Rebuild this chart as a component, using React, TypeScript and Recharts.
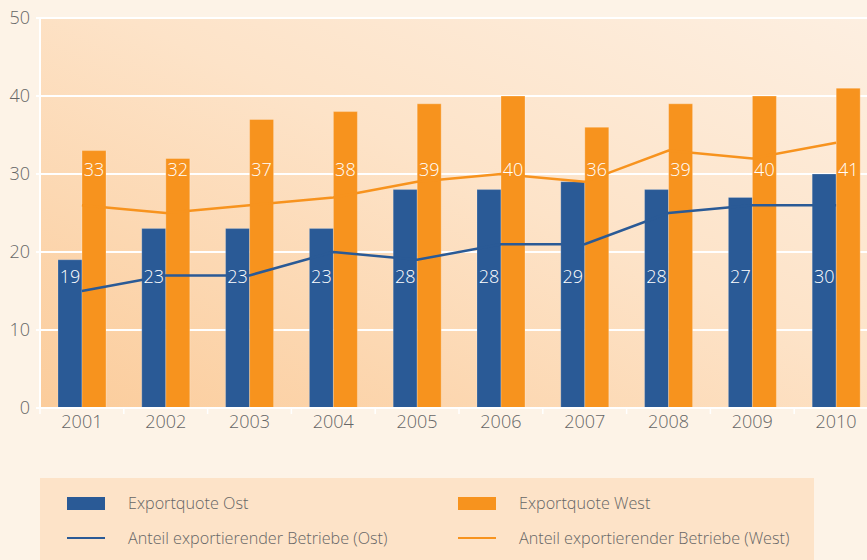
import React from 'react';
import { ComposedChart, Bar, Line, XAxis, YAxis, CartesianGrid, LabelList } from 'recharts';

const years = ['2001', '2002', '2003', '2004', '2005', '2006', '2007', '2008', '2009', '2010'];
const exportquoteOst = [19, 23, 23, 23, 28, 28, 29, 28, 27, 30];
const exportquoteWest = [33, 32, 37, 38, 39, 40, 36, 39, 40, 41];
const anteilOst = [15, 17, 17, 20, 19, 21, 21, 25, 26, 26];
const anteilWest = [26, 25, 26, 27, 29, 30, 29, 33, 32, 34];
const yTicks = [0, 10, 20, 30, 40, 50];

const seriesNames = {
  eqOst: 'Exportquote Ost',
  eqWest: 'Exportquote West',
  aOst: 'Anteil exportierender Betriebe (Ost)',
  aWest: 'Anteil exportierender Betriebe (West)',
};

const BLUE = '#2A5A96';
const ORANGE = '#F7931E';
const TEXT = '#666666';
const FONT = '"Open Sans", sans-serif';
const WEIGHT = 300;

const data = years.map((year, i) => ({
  year,
  eqOst: exportquoteOst[i],
  eqWest: exportquoteWest[i],
  aOst: anteilOst[i],
  aWest: anteilWest[i],
}));

const makeLabel = (level: number) => (props: any) => {
  const { x, y, width, height, value } = props;
  const bottom = Number(y) + Number(height);
  const ly = bottom - (Number(height) / Number(value)) * level;
  return (
    <text
      x={Number(x) + Number(width) / 2}
      y={ly}
      fill="#ffffff"
      fontSize={18}
      fontWeight={WEIGHT}
      fontFamily={FONT}
      textAnchor="middle"
      dominantBaseline="central"
    >
      {value}
    </text>
  );
};

const XTick = (props: any) => {
  const { x, y, payload } = props;
  const off = payload && payload.offset ? payload.offset : 0;
  const axisY = y - 7;
  return (
    <g>
      <line x1={x - off} y1={axisY} x2={x - off} y2={axisY + 6} stroke="#ffffff" strokeWidth={1.5} />
      <text x={x} y={y} dy="0.71em" textAnchor="middle" fill={TEXT} fontSize={18} fontWeight={WEIGHT} fontFamily={FONT}>
        {payload.value}
      </text>
    </g>
  );
};

const legendItems = [
  { key: 'eqOst', type: 'bar', color: BLUE, left: 27, top: 25 },
  { key: 'aOst', type: 'line', color: BLUE, left: 27, top: 60 },
  { key: 'eqWest', type: 'bar', color: ORANGE, left: 418, top: 25 },
  { key: 'aWest', type: 'line', color: ORANGE, left: 418, top: 60 },
];

export default function App() {
  return (
    <div
      style={{
        position: 'fixed',
        left: 0,
        top: 0,
        width: 867,
        height: 560,
        overflow: 'hidden',
        background: '#FDF3E7',
        fontFamily: FONT,
      }}
    >
      <svg width={0} height={0} style={{ position: 'absolute' }}>
        <defs>
          <linearGradient id="plotGrad" x1="0" y1="1" x2="1" y2="0">
            <stop offset="0%" stopColor="#FBCC9B" />
            <stop offset="55%" stopColor="#FDE3C8" />
            <stop offset="100%" stopColor="#FDEFE1" />
          </linearGradient>
        </defs>
      </svg>
      <ComposedChart
        width={880}
        height={560}
        data={data}
        margin={{ top: 18, right: 2, bottom: 122, left: 0 }}
        barGap={0}
        barSize={24}
      >
        <CartesianGrid
          vertical={false}
          stroke="#ffffff"
          strokeWidth={2}
          fill="url(#plotGrad)"
          fillOpacity={1}
        />
        <XAxis
          dataKey="year"
          height={30}
          tickSize={6}
          tickMargin={1}
          tickLine={false}
          axisLine={{ stroke: '#ffffff', strokeWidth: 2 }}
          tick={<XTick />}
          interval={0}
        />
        <YAxis
          width={40}
          domain={[0, 50]}
          ticks={yTicks}
          tickSize={4}
          tickMargin={6}
          tickLine={{ stroke: '#ffffff', strokeWidth: 2 }}
          axisLine={{ stroke: '#ffffff', strokeWidth: 2 }}
          tick={{ fill: TEXT, fontSize: 18, fontFamily: FONT, fontWeight: WEIGHT }}
        />
        <Bar dataKey="eqOst" name={seriesNames.eqOst} fill={BLUE} stroke="rgba(255,255,255,0.2)" strokeWidth={1} isAnimationActive={false}>
          <LabelList dataKey="eqOst" content={makeLabel(16.9)} />
        </Bar>
        <Bar dataKey="eqWest" name={seriesNames.eqWest} fill={ORANGE} stroke="rgba(255,255,255,0.25)" strokeWidth={1} isAnimationActive={false}>
          <LabelList dataKey="eqWest" content={makeLabel(30.6)} />
        </Bar>
        <Line type="linear" dataKey="aWest" name={seriesNames.aWest} stroke={ORANGE} strokeWidth={2.5} dot={false} activeDot={false} isAnimationActive={false} />
        <Line type="linear" dataKey="aOst" name={seriesNames.aOst} stroke={BLUE} strokeWidth={2.5} dot={false} activeDot={false} isAnimationActive={false} />
      </ComposedChart>
      <div
        style={{
          position: 'absolute',
          left: 40,
          top: 478,
          width: 774,
          height: 82,
          background: '#FDE3C8',
        }}
      >
        {legendItems.map((it) => (
          <div key={it.key}>
            <div
              style={{
                position: 'absolute',
                left: it.left,
                top: it.type === 'bar' ? it.top - 6.5 : it.top - 1,
                width: 38,
                height: it.type === 'bar' ? 13 : 2,
                background: it.color,
              }}
            />
            <div
              style={{
                position: 'absolute',
                left: it.left + 61,
                top: it.top - 12,
                height: 24,
                lineHeight: '24px',
                fontSize: 16.2,
                fontWeight: WEIGHT,
                color: TEXT,
                whiteSpace: 'nowrap',
              }}
            >
              {seriesNames[it.key as keyof typeof seriesNames]}
            </div>
          </div>
        ))}
      </div>
    </div>
  );
}
